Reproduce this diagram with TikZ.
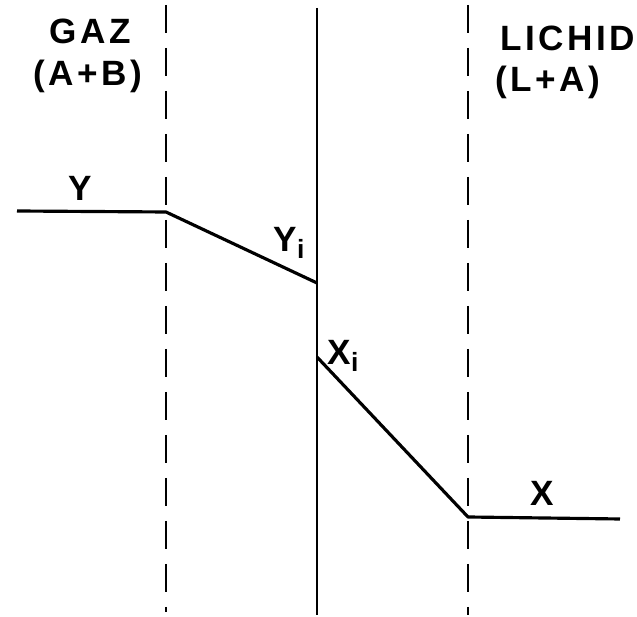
\documentclass[tikz,border=0pt]{standalone}
\usepackage{fontspec}
\setmainfont{Liberation Sans}
\usetikzlibrary{positioning}

\newcommand{\sbi}{\raisebox{-0.35ex}{\fontsize{15}{18}\selectfont i}}

\begin{document}
\begin{tikzpicture}[x=0.02cm,y=-0.02cm,
  film/.style={line width=1.1pt,dash pattern=on 0.56cm off 0.3cm},
  iface/.style={line width=1.1pt},
  profil/.style={line width=1.8pt,line join=round},
  lbl/.style={font=\fontsize{20}{24}\selectfont\bfseries\addfontfeature{LetterSpace=10},
    inner sep=0pt,align=center}
]
  \useasboundingbox (0,0) rectangle (637,617);
  % Film boundaries and interface
  \coordinate (gtop) at (166,5);   \coordinate (gbot) at (166,612);
  \coordinate (itop) at (317,8);   \coordinate (ibot) at (317,615);
  \coordinate (ltop) at (468,5);   \coordinate (lbot) at (468,615);
  \draw[film] (gtop) -- (gbot);
  \draw[iface] (itop) -- (ibot);
  \draw[film] (ltop) -- (lbot);
  % Concentration profiles
  \coordinate (y0) at (17,211);
  \coordinate (y1) at (166,212);
  \coordinate (yi) at (317,283);
  \coordinate (xi) at (317,357);
  \coordinate (x1) at (468,517);
  \coordinate (x0) at (620,519);
  \draw[profil] (y0) -- (y1) -- (yi);
  \draw[profil] (xi) -- (x1) -- (x0);
  % Labels
  \node[lbl] (gaz) at (90,31) {GAZ};
  \node[lbl] (gazab) at (88,76) {(A+B)};
  \node[lbl] (lichid) at (568,38) {LICHID};
  \node[lbl] (lichidla) at (548,82) {(L+A)};
  \node[lbl] (ylbl) at (80,188) {Y};
  \node[lbl] (yilbl) at (289,243) {Y\sbi};
  \node[lbl] (xilbl) at (343,356) {X\sbi};
  \node[lbl] (xlbl) at (542,493) {X};
\end{tikzpicture}
\end{document}
